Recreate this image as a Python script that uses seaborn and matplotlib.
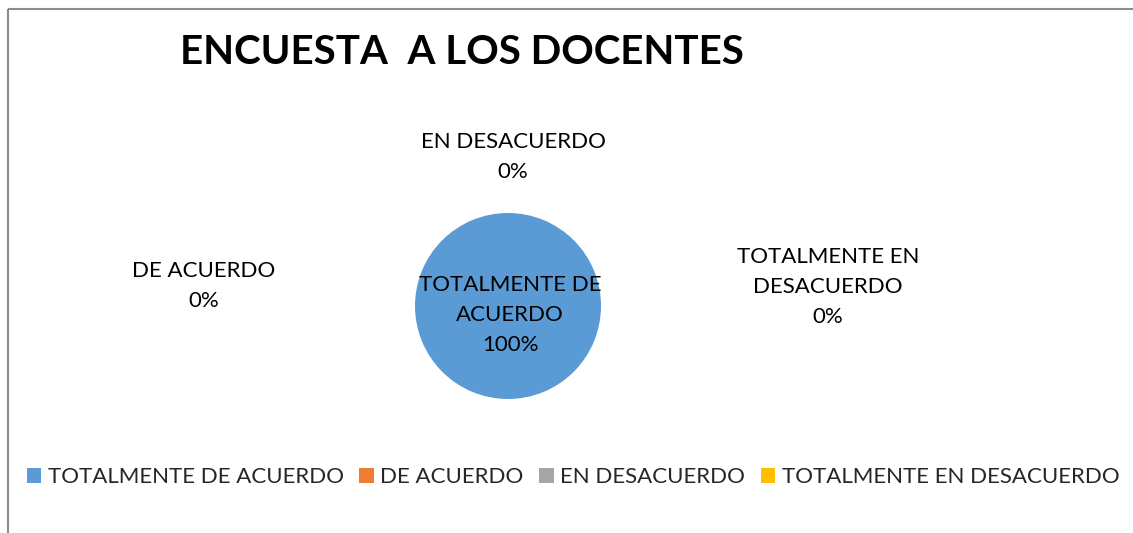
import matplotlib
matplotlib.use("Agg")
import matplotlib.pyplot as plt
import seaborn as sns

sns.set_theme(style="white")
plt.rcParams['font.family'] = ['Lato', 'DejaVu Sans']

categories = ["TOTALMENTE DE ACUERDO", "DE ACUERDO", "EN DESACUERDO", "TOTALMENTE EN DESACUERDO"]
values = [100, 0, 0, 0]
label_texts = ["TOTALMENTE DE\nACUERDO", "DE ACUERDO", "EN DESACUERDO", "TOTALMENTE EN\nDESACUERDO"]
colors = ["#5B9BD5", "#ED7D31", "#A5A5A5", "#FFC000"]
title = "ENCUESTA  A LOS DOCENTES"

W, H = 1133, 533
fig = plt.figure(figsize=(W / 100, H / 100), dpi=100)
ax = fig.add_axes([0, 0, 1, 1])
ax.set_aspect('equal')

wedges, _ = ax.pie(values, colors=colors, center=(508, 306), radius=93,
                   startangle=90, counterclock=False, frame=True,
                   wedgeprops=dict(linewidth=0, edgecolor='none'))
ax.set_xlim(0, W)
ax.set_ylim(H, 0)
ax.axis('off')

total = sum(values)
label_pos = [(510, 315), (204, 286), (513, 157), (828, 287)]
for txt, v, (x, y) in zip(label_texts, values, label_pos):
    pct = f"{v / total * 100:.0f}%"
    ax.text(x, y, f"{txt}\n{pct}", ha='center', va='center', fontsize=16,
            color='#000000', linespacing=1.65)

ax.text(180, 53, title, ha='left', va='center', fontsize=29, fontweight='bold', color='black')

# frame lines
ax.plot([7.5, 7.5], [9, H], color='#8c8c8c', lw=1.5, solid_capstyle='butt')
ax.plot([7.5, W], [9, 9], color='#8c8c8c', lw=1.5, solid_capstyle='butt')

leg = ax.legend(wedges, categories, loc='center', bbox_to_anchor=(573 / W, 1 - 477 / H),
                ncol=4, frameon=False, fontsize=16, handlelength=0.65, handleheight=0.65,
                handletextpad=0.3, columnspacing=0.7, borderaxespad=0)

fig.savefig("out.png", dpi=100, facecolor='white')
